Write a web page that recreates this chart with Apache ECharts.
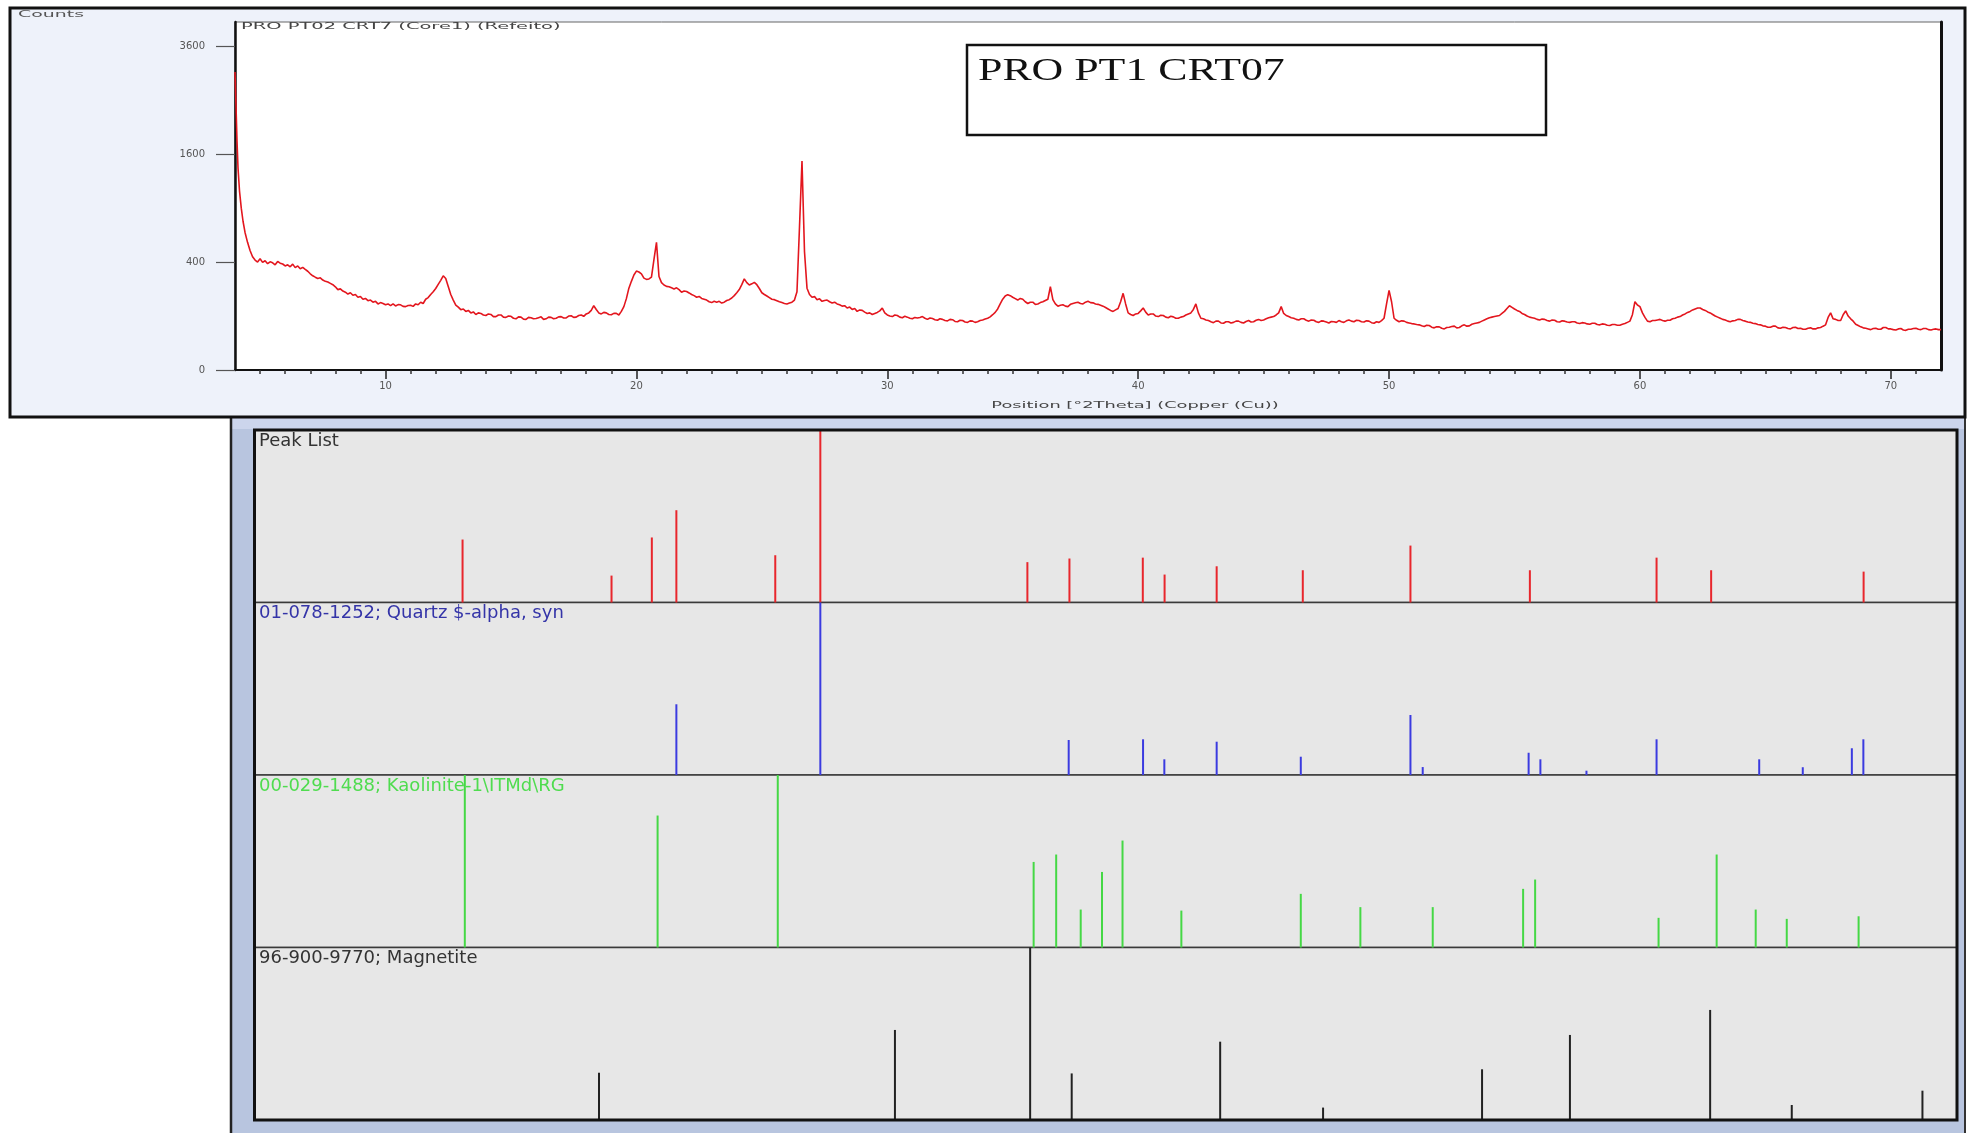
<!DOCTYPE html>
<html>
<head>
<meta charset="utf-8">
<script src="https://cdn.jsdelivr.net/npm/echarts@6/dist/echarts.min.js"></script>
<style>
html,body{margin:0;padding:0;background:#ffffff;}
#chart{width:1970px;height:1133px;}
</style>
</head>
<body>
<div id="chart"></div>
<script>
// ---------- DATA ----------
// low-angle part of the XRD scan: [2theta (deg), counts]
const scanLowAngle = [
[4.00,3050],[4.04,2400],[4.08,1800],[4.12,1400],[4.18,1100],[4.25,900],[4.32,760],[4.40,650],[4.50,560],[4.60,490],
[4.70,440],[4.80,415],[4.90,400]
];
// rest of the scan, read every 0.1 deg from 5.0 to 72.0 deg 2theta (counts)
const scanStart = 5.0;
const scanStep = 0.1;
const scanCounts = [
/* 5 */ 425,398,410,388,402,395,380,405,392,386,
/* 6 */ 372,380,366,385,360,372,352,362,348,335,
/* 7 */ 318,305,296,288,292,278,270,266,258,250,
/* 8 */ 238,222,226,214,208,198,205,192,196,182,
/* 9 */ 186,172,176,165,168,158,162,150,156,152,
/*10 */ 146,150,142,150,141,147,146,139,138,143,
/*11 */ 144,139,150,146,158,152,172,180,196,210,
/*12 */ 228,252,276,305,288,240,196,168,145,136,
/*13 */ 125,128,118,122,112,116,106,112,110,104,
/*14 */ 102,108,106,98,98,104,104,96,95,100,
/*15 */ 99,92,90,97,96,89,88,95,94,90,
/*16 */ 91,94,97,88,90,96,95,90,92,97,
/*17 */ 98,93,93,100,101,95,96,102,104,99,
/*18 */ 108,112,122,142,126,112,108,114,112,106,
/*19 */ 105,110,110,104,118,138,175,230,270,310,
/*20 */ 336,330,318,290,282,285,296,420,560,300,
/*21 */ 262,248,240,238,232,226,232,222,208,214,
/*22 */ 212,204,196,190,182,186,176,172,168,160,
/*23 */ 156,162,158,162,154,158,166,170,178,190,
/*24 */ 205,222,250,285,262,248,255,264,250,228,
/*25 */ 205,196,188,180,172,170,165,160,156,152,
/*26 */ 150,154,158,168,210,700,1500,480,230,196,
/*27 */ 182,185,170,174,162,166,168,160,154,158,
/*28 */ 150,146,140,142,132,136,126,130,118,124,
/*29 */ 122,115,110,112,106,110,114,120,132,112,
/*30 */ 104,100,98,104,102,96,94,99,96,92,
/*31 */ 90,95,93,95,98,92,88,93,91,87,
/*32 */ 85,90,88,84,83,88,87,81,80,85,
/*33 */ 84,79,78,83,82,78,80,84,86,89,
/*34 */ 92,97,105,114,128,150,172,188,195,190,
/*35 */ 182,175,168,176,172,160,152,158,158,148,
/*36 */ 150,156,160,166,172,238,170,150,140,144,
/*37 */ 146,140,138,148,152,155,158,152,150,158,
/*38 */ 162,156,155,150,148,144,140,134,128,122,
/*39 */ 118,124,130,160,202,150,112,106,102,108,
/*40 */ 110,120,132,115,104,108,108,100,98,103,
/*41 */ 102,96,94,99,97,92,92,96,98,104,
/*42 */ 108,112,126,150,112,92,90,86,84,80,
/*43 */ 77,82,82,76,75,80,80,76,78,82,
/*44 */ 82,78,76,81,84,79,80,85,88,84,
/*45 */ 86,90,94,96,98,104,112,138,110,102,
/*46 */ 98,94,92,88,86,90,90,85,82,86,
/*47 */ 85,80,78,83,82,79,76,81,80,78,
/*48 */ 84,80,78,83,86,82,80,85,84,80,
/*49 */ 79,83,82,77,75,80,78,84,92,150,
/*50 */ 218,160,92,85,80,83,82,78,76,74,
/*51 */ 73,71,70,67,65,69,68,63,61,64,
/*52 */ 64,60,58,62,63,65,66,61,62,67,
/*53 */ 70,66,67,72,74,76,78,82,86,90,
/*54 */ 94,96,98,100,102,110,118,130,142,135,
/*55 */ 128,122,118,110,106,100,96,94,92,88,
/*56 */ 86,89,88,84,82,86,85,80,79,83,
/*57 */ 82,79,78,80,80,76,74,77,76,73,
/*58 */ 72,75,75,71,70,73,72,69,68,71,
/*59 */ 71,69,69,72,74,78,82,105,160,145,
/*60 */ 138,112,95,82,80,84,84,86,88,84,
/*61 */ 82,85,85,90,92,96,98,104,108,114,
/*62 */ 118,124,128,132,132,126,122,116,112,106,
/*63 */ 100,96,92,88,86,82,80,83,84,88,
/*64 */ 88,84,82,79,78,75,74,71,70,67,
/*65 */ 66,63,63,66,66,61,60,63,62,59,
/*66 */ 58,62,63,59,60,57,57,60,61,58,
/*67 */ 58,61,62,66,70,95,112,90,88,84,
/*68 */ 84,105,120,100,90,82,72,68,64,61,
/*69 */ 60,58,56,59,60,57,57,62,62,58,
/*70 */ 58,56,55,58,59,55,54,57,57,59,
/*71 */ 60,57,56,59,59,56,55,57,58,56,
/*72 */ 56
];

const xMajorTicks = [10, 20, 30, 40, 50, 60, 70];
const xMinorTicks = [5,6,7,8,9,11,12,13,14,15,16,17,18,19,21,22,23,24,25,26,27,28,29,31,32,33,34,35,36,37,38,39,
  41,42,43,44,45,46,47,48,49,51,52,53,54,55,56,57,58,59,61,62,63,64,65,66,67,68,69,71];
const yTickCounts = [0, 400, 1600, 3600];

// reference patterns: position (deg 2theta) and relative intensity (%)
const peakListPos = [12.31, 18.26, 19.87, 20.85, 24.80, 26.60, 34.87, 36.55, 39.48, 40.35, 42.43, 45.87, 50.17, 54.94, 60.00, 62.18, 68.27];
const peakListRel = [36.5, 15.6, 37.7, 53.5, 27.4, 100, 23.4, 25.5, 26.0, 16.2, 21.0, 18.7, 33.0, 18.7, 26.0, 18.7, 17.9];

const quartzPos = [20.85, 26.60, 36.52, 39.49, 40.34, 42.43, 45.79, 50.17, 50.66, 54.89, 55.36, 57.20, 60.00, 64.10, 65.84, 67.80, 68.26];
const quartzRel = [41.0, 100, 20.3, 20.7, 9.1, 19.3, 10.6, 34.8, 4.6, 12.9, 9.1, 2.5, 20.7, 9.1, 4.5, 15.5, 20.7];

const kaolinitePos = [12.40, 20.10, 24.90, 35.12, 36.02, 37.00, 37.85, 38.67, 41.02, 45.79, 48.17, 51.06, 54.67, 55.15, 60.08, 62.40, 63.96, 65.20, 68.07];
const kaoliniteRel = [100, 76.5, 100, 49.6, 53.9, 22.0, 43.8, 62.0, 21.4, 31.1, 23.4, 23.4, 34.0, 39.4, 17.2, 53.9, 22.0, 16.6, 18.1];

const magnetitePos = [17.76, 29.58, 34.98, 36.64, 42.57, 46.68, 53.03, 56.54, 62.14, 65.40, 70.62];
const magnetiteRel = [27.4, 52.2, 100, 27.0, 45.4, 7.2, 29.4, 49.3, 63.8, 8.7, 17.0];

const stripNames = ['Peak List', '01-078-1252; Quartz $-alpha, syn', '00-029-1488; Kaolinite-1\\ITMd\\RG', '96-900-9770; Magnetite'];

// ---------- CHART ----------
const chart = echarts.init(document.getElementById('chart'), null, {renderer: 'canvas'});

const X_MIN = 4, X_MAX = 72;
const Y_MAX_SQRT = 64.5; // square-root intensity scale
const smallFont = 'DejaVu Sans';
const PLOT_H = 348;

const scanData = scanLowAngle.map(p => [p[0], Math.sqrt(p[1])]).concat(
  scanCounts.map((c, i) => [Math.round((scanStart + i * scanStep) * 10) / 10, Math.sqrt(c)])
);

const stripTops = [430, 602.5, 775, 947.5];
const stripH = 172.5;
const stripColors = ['#e8262c', '#3b3be0', '#45d845', '#222222'];
const stripLabelColors = ['#333333', '#3434a8', '#4fdc4f', '#333333'];
const stripPos = [peakListPos, quartzPos, kaolinitePos, magnetitePos];
const stripRel = [peakListRel, quartzRel, kaoliniteRel, magnetiteRel];

const grids = [{left: 235, top: 22, width: 1706, height: PLOT_H, show: true, backgroundColor: '#ffffff', borderColor: '#666', borderWidth: 1, outerBoundsMode: 'none'}];
stripTops.forEach(t => grids.push({left: 254.5, top: t, width: 1702.5, height: stripH, show: true,
  backgroundColor: '#e7e7e7', borderColor: '#3a3a3a', borderWidth: 1.5, outerBoundsMode: 'none'}));

const xAxes = [
  {type: 'value', gridIndex: 0, min: X_MIN, max: X_MAX, position: 'bottom',
   axisLine: {show: true, onZero: false, lineStyle: {color: '#111', width: 2}},
   axisTick: {show: true, customValues: xMajorTicks, length: 9, lineStyle: {color: '#222', width: 1.5}},
   axisLabel: {show: true, customValues: xMajorTicks, margin: 11, fontSize: 10, fontFamily: smallFont, color: '#555'},
   splitLine: {show: false}},
  // minor ticks: a second axis placed on the bottom edge (top slot moved down by the plot height)
  {type: 'value', gridIndex: 0, min: X_MIN, max: X_MAX, position: 'top', offset: -PLOT_H,
   axisLine: {show: false},
   axisTick: {show: true, inside: true, customValues: xMinorTicks, length: 4, lineStyle: {color: '#333', width: 1.5}},
   axisLabel: {show: false}, splitLine: {show: false}}
];
const yAxes = [
  {type: 'value', gridIndex: 0, min: 0, max: Y_MAX_SQRT, position: 'left',
   axisLine: {show: true, lineStyle: {color: '#111', width: 2.5}},
   axisTick: {show: true, customValues: yTickCounts.map(c => Math.sqrt(c)), length: 19, lineStyle: {color: '#555', width: 1.2}},
   axisLabel: {show: true, customValues: yTickCounts.map(c => Math.sqrt(c)), margin: 30, fontSize: 10, fontFamily: smallFont, color: '#555',
     formatter: v => String(Math.round(v * v))},
   splitLine: {show: false}},
  {type: 'value', gridIndex: 0, min: 0, max: Y_MAX_SQRT, position: 'right',
   axisLine: {show: true, lineStyle: {color: '#111', width: 3}},
   axisTick: {show: false}, axisLabel: {show: false}, splitLine: {show: false}}
];
for (let i = 0; i < 4; i++) {
  xAxes.push({type: 'value', gridIndex: i + 1, min: X_MIN, max: X_MAX, show: false});
  yAxes.push({type: 'value', gridIndex: i + 1, min: 0, max: 100, show: false});
}

const series = [{
  type: 'line', xAxisIndex: 0, yAxisIndex: 0,
  data: scanData,
  showSymbol: false, symbol: 'none', clip: true,
  lineStyle: {color: '#e3161e', width: 1.6}, z: 5
}];
for (let i = 0; i < 4; i++) {
  series.push({
    type: 'bar', xAxisIndex: i + 2, yAxisIndex: i + 2,
    data: stripPos[i].map((p, k) => [p, stripRel[i][k]]),
    barWidth: 2, barGap: '-100%',
    itemStyle: {color: stripColors[i]}, z: 4, animation: false
  });
}

const graphic = [
  {type: 'rect', z: -20, shape: {x: 10, y: 8, width: 1955, height: 409},
   style: {fill: '#eef2fa', stroke: null}},
  {type: 'rect', z: -20, shape: {x: 231, y: 417, width: 1735, height: 720},
   style: {fill: '#b8c5df'}},
  {type: 'rect', z: -19, shape: {x: 232, y: 418, width: 1733, height: 11},
   style: {fill: '#ccd5ec'}},
  {type: 'line', z: 60, shape: {x1: 231, y1: 417, x2: 231, y2: 1133}, style: {stroke: '#222', lineWidth: 2.5}},
  {type: 'line', z: 60, shape: {x1: 1965, y1: 417, x2: 1965, y2: 1133}, style: {stroke: '#333', lineWidth: 2}},
  {type: 'rect', z: 60, shape: {x: 10, y: 8, width: 1955, height: 409},
   style: {fill: null, stroke: '#111', lineWidth: 3}},
  {type: 'rect', z: 60, shape: {x: 254.5, y: 430, width: 1702.5, height: 690},
   style: {fill: null, stroke: '#111', lineWidth: 3}},
  {type: 'rect', z: 60, shape: {x: 967, y: 45, width: 579, height: 90},
   style: {fill: '#ffffff', stroke: '#111', lineWidth: 2.5}},
  {type: 'text', z: 61, x: 978, y: 56, scaleX: 1.37,
   style: {text: 'PRO PT1 CRT07', font: '32px "Liberation Serif", "Times New Roman", serif', fill: '#111',
     textAlign: 'left', textVerticalAlign: 'top'}},
  {type: 'text', z: 61, x: 18, y: 15, scaleX: 2.1,
   style: {text: 'Counts', font: '9px "DejaVu Sans"', fill: '#555', textAlign: 'left', textVerticalAlign: 'middle'}},
  {type: 'text', z: 61, x: 241, y: 26.5, scaleX: 2.16,
   style: {text: 'PRO PT02 CRT7 (Core1) (Refeito)', font: '9px "DejaVu Sans"', fill: '#444', textAlign: 'left', textVerticalAlign: 'middle'}},
  {type: 'text', z: 61, x: 1135, y: 406, scaleX: 1.98,
   style: {text: 'Position [°2Theta] (Copper (Cu))', font: '9px "DejaVu Sans"', fill: '#444', textAlign: 'center', textVerticalAlign: 'middle'}}
];
stripNames.forEach((name, i) => {
  graphic.push({type: 'text', z: 50, x: 259, y: stripTops[i] + 2,
    style: {text: name, font: '18px "DejaVu Sans"', fill: stripLabelColors[i], textAlign: 'left', textVerticalAlign: 'top'}});
});

chart.setOption({
  animation: false,
  backgroundColor: '#ffffff',
  grid: grids,
  xAxis: xAxes,
  yAxis: yAxes,
  series: series,
  graphic: graphic
});
</script>
</body>
</html>
